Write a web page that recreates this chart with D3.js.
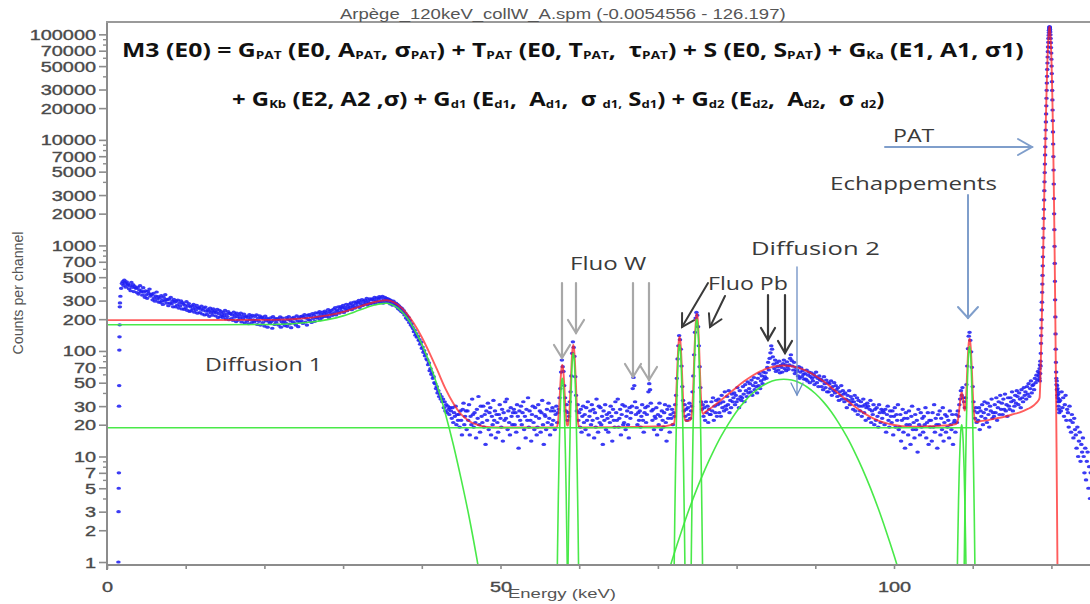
<!DOCTYPE html>
<html><head><meta charset="utf-8">
<script src="https://cdn.jsdelivr.net/npm/d3@7"></script>
<style>html,body{margin:0;padding:0;background:#fff;}svg{display:block;}</style>
</head><body>
<svg id="chart" width="1090" height="604"></svg>
<script>
// ---------------- DATA ----------------
const lowChannelStart = 1.45, lowChannelStep = 0.02;
const lowChannelCounts = [1,3,5,7,30,47,102,136,177,262,285];

const mainStart = 1.7, mainStep = 0.1;
const mainCounts = [
330,392,436,455,418,468,441,402,452,424,
432,388,415,372,447,401,425,365,411,396,
392,358,401,346,380,415,362,371,338,398,
361,322,372,340,315,368,351,386,330,344,
340,305,352,318,296,331,362,309,327,290,
318,289,335,301,276,322,296,341,308,283,
305,268,311,284,322,279,297,262,308,290,
262,296,271,304,255,283,268,299,250,287,
279,248,271,256,293,242,268,281,237,262,
241,268,250,276,233,259,245,271,228,256,
258,231,249,266,224,243,255,219,261,238,
222,247,238,213,254,229,241,218,250,232,
239,215,232,248,207,226,243,211,236,221,
208,231,216,242,201,224,212,236,198,227,
226,203,219,195,233,209,221,190,228,211,
196,219,205,228,188,213,201,224,185,210,
214,192,208,181,221,199,211,186,218,197,
188,212,195,220,178,204,191,215,176,207,
209,186,201,172,214,193,205,168,199,190,
183,206,190,164,211,196,178,203,187,199,
202,176,197,210,168,189,205,181,193,174,
185,207,171,199,212,180,194,166,204,189,
208,183,201,176,215,192,170,206,188,211,
193,214,182,209,221,188,205,176,217,198,
221,195,212,186,226,203,218,191,230,209,
204,228,211,236,198,222,207,233,213,225,
238,212,231,219,247,208,236,226,242,217,
224,249,231,258,219,244,237,262,228,251,
263,238,256,271,232,259,248,277,241,264,
251,277,259,286,246,272,263,291,255,279,
292,265,284,301,258,288,274,306,269,295,
278,303,287,315,272,298,284,311,280,306,
312,286,305,322,280,299,318,291,309,327,
289,318,296,330,284,307,322,293,315,301,
312,287,306,279,300,292,271,296,283,275,
284,262,276,251,268,245,259,236,252,231,
241,219,228,205,216,197,208,186,194,176,
181,169,163,152,157,141,146,135,138,126,
128,116,121,106,109,97,101,90,93,84,
82,74,77,65,68,60,62,55,57,50,
49,44,46,40,42,37,39,35,37,33,
35,29,33,27,31,26,30,28,25,29,
27,23,29,21,26,24,30,20,25,22,
25,19,27,22,16,28,32,20,24,27,
18,27,22,31,16,24,20,35,25,19,
26,21,15,28,23,37,20,17,30,24,
21,30,19,25,13,27,22,32,18,26,
29,16,24,20,34,22,27,15,25,21,
17,25,31,23,19,28,14,26,22,33,
23,35,18,27,21,16,29,24,20,26,
28,20,26,17,31,24,12,27,22,30,
20,26,33,18,24,15,28,22,36,19,
27,22,14,25,30,21,18,29,24,16,
19,31,23,27,17,26,34,20,13,25,
24,18,28,21,32,23,16,27,20,29,
22,27,18,25,30,21,26,28,36,44,
63,82,71,64,47,36,27,31,22,26,
24,33,41,58,95,122,108,89,57,38,
27,31,22,26,19,28,17,24,30,21,
25,18,29,22,33,16,24,27,20,31,
22,28,15,26,19,35,23,17,30,21,
29,20,24,13,27,22,31,18,25,23,
17,26,21,30,24,14,28,22,19,33,
26,22,35,19,23,28,16,25,31,20,
21,30,18,24,27,20,15,29,23,26,
30,44,56,47,33,25,29,20,26,22,
27,19,24,31,22,17,26,29,21,25,
30,41,49,43,32,27,22,28,18,24,
23,29,16,25,20,32,24,18,27,22,
19,26,31,21,14,28,23,30,17,25,
23,28,20,26,24,31,38,55,84,112,
140,128,104,72,46,34,27,31,24,28,
22,29,25,32,23,27,30,41,58,92,
150,205,232,218,170,112,71,45,33,28,
31,24,29,22,33,26,30,21,28,25,
25,33,27,36,22,30,26,34,24,31,
35,26,32,24,38,29,33,27,41,30,
28,37,31,42,26,34,29,39,33,36,
40,31,38,33,45,35,29,42,37,34,
36,46,39,33,48,42,37,51,40,44,
49,41,53,38,47,56,43,50,46,40,
55,47,61,44,52,58,49,63,54,57,
62,55,70,78,66,85,96,112,104,88,
75,68,82,64,77,71,66,80,62,73,
70,63,76,82,68,74,65,79,71,67,
74,85,92,81,72,66,78,61,70,64,
66,58,71,55,63,69,57,65,60,54,
61,54,66,52,59,63,50,57,62,55,
52,60,48,57,63,50,55,46,58,53,
54,46,52,43,57,49,45,53,41,50,
41,49,44,52,38,46,42,50,40,47,
43,37,45,34,41,38,47,35,42,39,
33,40,35,29,38,34,42,31,37,33,
35,28,33,38,27,31,36,25,34,30,
27,33,24,30,35,26,31,22,29,32,
30,23,28,34,21,27,25,31,20,28,
22,29,24,19,31,26,21,28,23,27,
26,20,28,17,25,30,22,19,27,24,
21,27,16,24,29,19,25,22,31,18,
19,25,14,22,28,17,23,12,26,20,
23,16,27,20,13,24,30,18,21,15,
25,18,22,11,28,20,16,26,19,23,
17,24,20,29,15,21,26,13,22,19,
22,14,26,19,31,17,23,20,12,25,
20,27,16,23,18,29,14,21,25,17,
24,19,22,15,27,20,18,25,13,21,
22,17,25,21,27,24,31,35,42,38,
45,36,33,29,36,48,72,105,138,150,
126,98,70,46,33,27,23,29,21,26,
22,29,18,27,24,31,20,26,33,23,
28,21,32,25,19,30,27,35,23,26,
24,31,26,36,22,29,33,25,38,28,
32,25,35,28,39,27,31,24,36,30,
28,36,33,41,27,34,30,38,32,42,
37,31,40,35,29,43,36,33,45,38,
41,35,46,39,49,37,44,52,40,47,
48,43,55,50,59,53,64,58
];

const peakStart = 118.45, peakStep = 0.025;
const peakCounts = [
62,55,68,52,74,61,80,72,95,118,140,165,
198,245,290,360,430,520,640,780,960,1180,1450,
1800,2200,2700,3300,4000,4900,5900,7200,8600,10300,
12400,14800,17600,21000,24800,29500,34500,40000,46500,53500,
61000,68500,76000,84000,91500,98000,104000,109500,114000,118000,
117500,114700,110700,105400,98900,91500,83400,74900,66500,58100,
50000,42500,35600,29400,23900,19200,15200,11900,9140,6940,
5180,3820,2780,1990,1410,980,675,457,305,210,
145,104,78,63,55,48,52,43,47,38,
44,36,41,33,39,30,35,28,33,26
];

const tailStart = 121.1, tailStep = 0.1;
const tailCounts = [
34,27,41,29,36,24,31,38,22,28,
26,19,30,22,17,25,21,15,23,18,
16,12,19,10,14,17,9,13,11,15,
10,7,12,6,9,11,5,8,4,7
];

// fitted model M3 (red) : [energy keV, counts]
const fitTotal = [
[0,196],[10,196],[20,197],[22,198],[24,201],[26,207],[28,217],[30,234],[31,247],[32,262],[33,277],[34,291],[35,300],[35.5,302],[36,298],[37,272],[38,231],[39,182],[40,135],[41,95],[42,65],[43,44],[44,32],[45,25],[46,21.7],[47,20],[48,19.2],[50,18.8],[57.15,18.8],
[57.25,20],[57.35,22.9],[57.45,29.2],[57.55,40.4],[57.65,55.1],[57.75,68.3],[57.85,73.7],[57.95,68.3],[58.05,55.1],[58.15,40.4],[58.25,29.2],[58.35,22.9],[58.45,20],[58.55,19.65],[58.65,21],[58.75,25.9],[58.85,36.8],[58.95,56.2],[59.05,81.5],[59.15,104.4],[59.25,113.7],[59.35,104.4],[59.45,81.5],[59.55,56.2],[59.65,36.8],[59.75,25.9],[59.85,21],[59.95,19.3],[60.1,18.8],
[71,19.4],[72.05,20.6],[72.15,22.7],[72.25,28.7],[72.35,42.1],[72.45,65.6],[72.55,96.3],[72.65,124.2],[72.75,135.6],[72.85,124.5],[72.95,96.9],[73.05,66.4],[73.15,43.1],[73.25,29.9],[73.35,24.1],[73.45,22.1],[73.6,21.7],[74.0,21.9],[74.15,22.4],[74.25,23.5],[74.35,27.2],[74.45,37.6],[74.55,60.7],[74.65,101.9],[74.75,155],[74.85,203.4],[74.95,223.7],[75.05,203.9],[75.15,156],[75.25,103.2],[75.35,62.3],[75.45,39.5],[75.55,29.5],[75.65,26.1],[75.75,25.3],
[76,26.3],[77,29.7],[78,34.1],[79,39.3],[80,45.4],[81,51.8],[82,58.2],[83,64],[84,68.6],[85,71.7],[86,72.7],[87,71.7],[88,68.6],[89,64],[90,58.2],[91,51.8],[92,45.4],[93,39.3],[94,34.1],[95,29.7],[96,26.3],[97,23.7],[98,21.9],[99,20.7],[100,19.9],[101,19.4],[102,19.1],[104,19.3],[106,19.6],[107.5,20],
[107.9,20.4],[108.0,20.8],[108.1,21.8],[108.2,24.1],[108.3,28.2],[108.4,33.5],[108.5,38.3],[108.6,40.4],[108.7,38.5],[108.8,33.8],[108.9,28.6],[109.0,27.2],[109.1,30.6],[109.2,42.3],[109.3,64.4],[109.4,93.5],[109.5,119.8],[109.6,130.8],[109.7,119.9],[109.8,93.7],[109.9,64.5],[110.0,42.1],[110.1,29.4],[110.2,23.8],[110.3,21.8],[110.5,21.2],
[111,21.6],[112,22.1],[113,23],[114,23.7],[115,25],[116,26.2],[117,28.2],[117.5,29.5],[118,31.7],[118.3,33.5],[118.5,36],
[118.6,55],[118.7,110],[118.8,230],[118.9,520],[119.0,1300],[119.1,3200],[119.2,7500],[119.3,16000],[119.4,32000],[119.5,58000],[119.6,88000],[119.7,112000],[119.75,119000],[119.8,115700],[119.85,106000],[119.9,92000],[119.95,75600],[120.0,58600],[120.05,42900],[120.1,29700],[120.15,19400],[120.2,12000],[120.25,7000],[120.3,3850],[120.35,2010],[120.4,990],[120.45,460],[120.5,202],[120.55,84],[120.6,33],[120.65,12.3],[120.7,4.3],[120.75,1.4],[120.8,0.45]
];

// fitted components (green)
const compDiffusion1 = [[0,177],[10,177],[20,178],[22,179],[24,182],[26,188],[28,198],[30,215],[31,228],[32,243],[33,258],[34,272],[35,281],[35.5,283],[36,279],[37,253],[38,212],[39,163],[40,116],[41,76],[42,46],[43,25.4],[44,13],[45,6.1],[46,2.7],[47,1.07],[47.5,0.65]];
const compStep = [[0,18.7],[110.5,18.7]];
const compFluoW1 = [[57.15,0.35],[57.25,1.34],[57.35,4.2],[57.45,10.5],[57.55,21.7],[57.65,36.4],[57.75,49.6],[57.85,55],[57.95,49.6],[58.05,36.4],[58.15,21.7],[58.25,10.5],[58.35,4.2],[58.45,1.34],[58.55,0.35]];
const compFluoW2 = [[58.55,0.6],[58.65,2.3],[58.75,7.2],[58.85,18.1],[58.95,37.5],[59.05,62.8],[59.15,85.7],[59.25,95],[59.35,85.7],[59.45,62.8],[59.55,37.5],[59.65,18.1],[59.75,7.2],[59.85,2.3],[59.95,0.6]];
const compFluoPb1 = [[72.05,0.73],[72.15,2.8],[72.25,8.7],[72.35,22],[72.45,45.4],[72.55,76],[72.65,103.7],[72.75,115],[72.85,103.7],[72.95,76],[73.05,45.4],[73.15,22],[73.25,8.7],[73.35,2.8],[73.45,0.73]];
const compFluoPb2 = [[74.15,0.27],[74.25,1.27],[74.35,4.9],[74.45,15.1],[74.55,38],[74.65,79],[74.75,132],[74.85,180],[74.95,200],[75.05,180],[75.15,132],[75.25,79],[75.35,38],[75.45,15.1],[75.55,4.9],[75.65,1.27],[75.75,0.27]];
const compDiffusion2 = [[71,0.66],[72,1.16],[73,1.96],[74,3.21],[75,5.04],[76,7.6],[77,11],[78,15.4],[79,20.6],[80,26.7],[81,33.1],[82,39.5],[83,45.3],[84,49.9],[85,53],[86,54],[87,53],[88,49.9],[89,45.3],[90,39.5],[91,33.1],[92,26.7],[93,20.6],[94,15.4],[95,11],[96,7.6],[97,5.04],[98,3.21],[99,1.96],[100,1.16],[101,0.66]];
const compEscape1 = [[107.9,0.13],[108.0,0.49],[108.1,1.5],[108.2,3.8],[108.3,7.9],[108.4,13.2],[108.5,18],[108.6,20],[108.7,18],[108.8,13.2],[108.9,7.9],[109.0,3.8],[109.1,1.5],[109.2,0.49],[109.3,0.13]];
const compEscape2 = [[108.9,0.7],[109.0,2.7],[109.1,8.3],[109.2,21],[109.3,43.5],[109.4,72.7],[109.5,99],[109.6,110],[109.7,99],[109.8,72.7],[109.9,43.5],[110.0,21],[110.1,8.3],[110.2,2.7],[110.3,0.7]];

const yTickLabels = [1,2,3,5,7,10,20,30,50,70,100,200,300,500,700,1000,2000,3000,5000,7000,10000,20000,30000,50000,70000,100000];
const yMinorTicks = [4,6,8,9,40,60,80,90,400,600,800,900,4000,6000,8000,9000,40000,60000,80000,90000];
const xTicks = [0,10,20,30,40,50,60,70,80,90,100,110,120];
const xTickLabels = [0,50,100];

const titleText = "Arpège_120keV_collW_A.spm (-0.0054556 - 126.197)";
const xTitle = "Energy (keV)";
const yTitle = "Counts per channel";
const eqLine1 = [["M3 (E0) = G",0],["PAT",1],[" (E0, A",0],["PAT",1],[", σ",0],["PAT",1],[") + T",0],["PAT",1],[" (E0, T",0],["PAT",1],[",  τ",0],["PAT",1],[") + S (E0, S",0],["PAT",1],[") + G",0],["Ka",1],[" (E1, A1, σ1)",0]];
const eqLine2 = [["+ G",0],["Kb",1],[" (E2, A2 ,σ) + G",0],["d1",1],[" (E",0],["d1",1],[",  A",0],["d1",1],[",  σ ",0],["d1,",1],[" S",0],["d1",1],[") + G",0],["d2",1],[" (E",0],["d2",1],[",  A",0],["d2",1],[",  σ ",0],["d2",1],[")",0]];

// ---------------- CHART ----------------
const svg = d3.select('#chart');
const x = d3.scaleLinear().domain([0,126.2]).range([107,1100.2]);
const y = d3.scaleLog().domain([0.937,130900]).range([565,22]);

svg.append('defs').append('clipPath').attr('id','plotClip')
  .append('rect').attr('x',107).attr('y',22).attr('width',1000).attr('height',543);

const plot = svg.append('g').attr('clip-path','url(#plotClip)');

const spectrum = [];
lowChannelCounts.forEach((c,i)=>spectrum.push([lowChannelStart+i*lowChannelStep,c]));
mainCounts.forEach((c,i)=>spectrum.push([mainStart+i*mainStep,c]));
peakCounts.forEach((c,i)=>spectrum.push([peakStart+i*peakStep,c]));
tailCounts.forEach((c,i)=>spectrum.push([tailStart+i*tailStep,c]));

plot.append('g').selectAll('ellipse').data(spectrum).join('ellipse')
  .attr('cx',d=>x(d[0])).attr('cy',d=>y(d[1]))
  .attr('rx',2.3).attr('ry',1.6).attr('fill','#2020f2').attr('fill-opacity',0.88);

const line = d3.line().x(d=>x(d[0])).y(d=>y(Math.max(d[1],0.05))).curve(d3.curveMonotoneX);

plot.append('path').datum(fitTotal).attr('d',line).attr('fill','none')
  .attr('stroke','#ff1f1f').attr('stroke-width',1.9).attr('stroke-opacity',0.72);

[compDiffusion1,compStep,compFluoW1,compFluoW2,compFluoPb1,compFluoPb2,compDiffusion2,compEscape1,compEscape2].forEach(c=>{
  plot.append('path').datum(c).attr('d',line).attr('fill','none')
    .attr('stroke','#3fe83f').attr('stroke-width',1.6).attr('stroke-opacity',0.95);
});

// axes
const axisColor = '#8c8c8c';
const tickFont = '"Liberation Sans", Arial, sans-serif';
const yAx = svg.append('g').attr('transform','translate(107,0)')
  .call(d3.axisLeft(y).tickValues(yTickLabels).tickFormat(d=>String(d)).tickSize(8));
yAx.select('.domain').remove();
yAx.selectAll('line').attr('stroke',axisColor).attr('stroke-width',1.6);
yAx.selectAll('text').attr('x',null).attr('dy',null)
  .attr('font-family',tickFont).attr('font-size',14)
  .attr('fill','#4a4a4a').attr('stroke','#4a4a4a').attr('stroke-width',0.35)
  .attr('text-anchor','end').attr('transform','translate(-11,5) scale(1.42,1)');
const yMin = svg.append('g').attr('transform','translate(107,0)')
  .call(d3.axisLeft(y).tickValues(yMinorTicks).tickFormat('').tickSize(4));
yMin.select('.domain').remove();
yMin.selectAll('line').attr('stroke',axisColor).attr('stroke-width',1.4);

const xAx = svg.append('g').attr('transform','translate(0,565)')
  .call(d3.axisBottom(x).tickValues(xTicks).tickFormat(d=>xTickLabels.includes(d)?String(d):'').tickSize(4));
xAx.select('.domain').remove();
xAx.selectAll('line').attr('stroke',axisColor).attr('stroke-width',1.6);
xAx.selectAll('text').attr('y',null).attr('dy',null)
  .attr('font-family',tickFont).attr('font-size',14)
  .attr('fill','#4a4a4a').attr('stroke','#4a4a4a').attr('stroke-width',0.35)
  .attr('text-anchor','middle').attr('transform','translate(0,27) scale(1.42,1)');

svg.append('line').attr('x1',107).attr('x2',107).attr('y1',21).attr('y2',570).attr('stroke',axisColor).attr('stroke-width',2);
svg.append('line').attr('x1',106).attr('x2',1090).attr('y1',565).attr('y2',565).attr('stroke',axisColor).attr('stroke-width',2);
svg.append('line').attr('x1',106).attr('x2',1090).attr('y1',22).attr('y2',22).attr('stroke','#9a9a9a').attr('stroke-width',2);

// text helper: fits text between x0 and x1 at baseline
function fitText(parent, segs, o){
  const t = parent.append('text').attr('font-family',o.family).attr('font-size',o.size)
    .attr('font-weight',o.weight||'normal').attr('fill',o.fill).style('white-space','pre');
  segs.forEach(([s,sub],i)=>{
    const ts = t.append('tspan').text(s);
    if(sub){ ts.attr('font-size',o.subSize).attr('dy',o.subShift); }
    else if(i>0 && segs[i-1][1]){ ts.attr('dy',-o.subShift); }
  });
  const b = t.node().getBBox();
  const sx = (o.x1-o.x0)/b.width;
  t.attr('transform',`translate(${o.x0-b.x*sx},${o.base}) scale(${sx},1)`);
  return t;
}
const sans = '"Liberation Sans", Arial, sans-serif';
const calib = '"Open Sans", "Noto Sans", sans-serif';

fitText(svg,[[titleText,0]],{x0:340,x1:786,base:19,size:14,family:sans,fill:'#555'});
fitText(svg,[[xTitle,0]],{x0:508,x1:616,base:598,size:13,family:sans,fill:'#555'});
// y title rotated
{
  const t = svg.append('text').attr('font-family',sans).attr('font-size',14).attr('fill','#555')
    .attr('text-anchor','middle').text(yTitle);
  const b = t.node().getBBox();
  const sx = 123/b.width;
  t.attr('transform',`translate(23,293) rotate(-90) scale(${sx},1)`);
}

const eqOpts = {size:20,subSize:11,subShift:1.5,family:calib,weight:'bold',fill:'#111'};
fitText(svg,eqLine1,Object.assign({x0:122,x1:1024,base:57},eqOpts));
fitText(svg,eqLine2,Object.assign({x0:232,x1:885,base:106},eqOpts));

const labels = [
  ['Diffusion 1',205,322,371],
  ['Fluo W',570,647,270],
  ['Fluo Pb',708,788,290],
  ['Diffusion 2',751,880,255],
  ['Echappements',830,997,190],
  ['PAT',893,935,142]
];
labels.forEach(([s,a,b,base])=>fitText(svg,[[s,0]],{x0:a,x1:b,base:base,size:19,family:calib,fill:'#3a3a3a'}));

// annotation arrows (layout, pixels)
function arrow(x1,y1,x2,y2,color,w,len,half){
  const g = svg.append('g').attr('stroke',color).attr('stroke-width',w).attr('fill','none').attr('stroke-linecap','round');
  g.append('line').attr('x1',x1).attr('y1',y1).attr('x2',x2).attr('y2',y2);
  const dx=x2-x1, dy=y2-y1, L=Math.hypot(dx,dy), ux=dx/L, uy=dy/L;
  const bx=x2-ux*len, by=y2-uy*len;
  g.append('path').attr('d',`M${bx-uy*half},${by+ux*half}L${x2},${y2}L${bx+uy*half},${by-ux*half}`);
}
const annArrows = [
  [562,283,562,358,'#a8a8a8',2.2,13,8],
  [576,283,576,333,'#a8a8a8',2.2,13,8],
  [633,283,633,377,'#a8a8a8',2.2,13,8],
  [649,283,649,380,'#a8a8a8',2.2,13,8],
  [708,283,682,327,'#3a3a3a',2,12,7],
  [725,296,710,327,'#3a3a3a',2,12,7],
  [768,295,768,340,'#3a3a3a',2.2,12,7],
  [785,295,785,353,'#3a3a3a',2.2,12,7],
  [797,267,797,395,'#6d8ec4',1.3,12,6],
  [968,195,968,318,'#7f9ecb',2,11,10],
  [885,147,1032,147,'#7f9ecb',2,14,8]
];
annArrows.forEach(a=>arrow(...a));
</script>
</body></html>
